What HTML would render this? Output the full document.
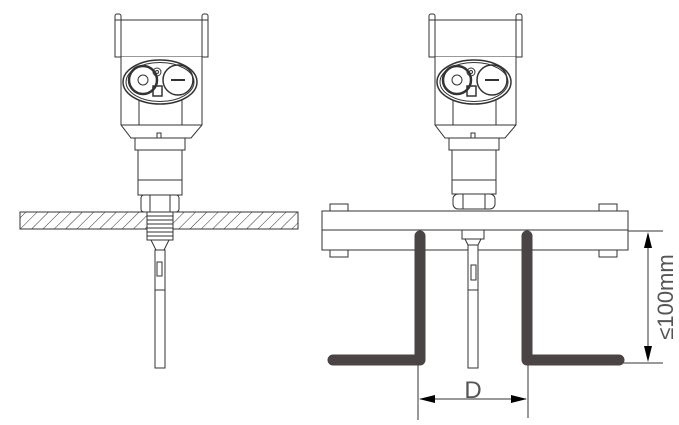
<!DOCTYPE html>
<html><head><style>html,body{margin:0;padding:0;background:#fff;}svg{display:block}</style></head><body>
<svg width="679" height="425" viewBox="0 0 679 425" xmlns="http://www.w3.org/2000/svg">
<defs>
<pattern id="hatch" width="8" height="8" patternUnits="userSpaceOnUse" patternTransform="rotate(45)">
<line x1="0" y1="0" x2="0" y2="8" stroke="#333" stroke-width="1"/>
</pattern>
<g id="head" fill="none" stroke="#333" stroke-width="1">
<rect x="115" y="14" width="6" height="10" rx="2" fill="#fff"/>
<rect x="202" y="14" width="6" height="10" rx="2" fill="#fff"/>
<rect x="115" y="20" width="93" height="37" fill="#fff"/>
<line x1="121" y1="20" x2="121" y2="57"/><line x1="202" y1="20" x2="202" y2="57"/>
<path d="M121 57 V125 L131 138 H191 L202 125 V57" fill="#fff"/>
<line x1="121" y1="125" x2="202" y2="125"/>
<line x1="139" y1="100" x2="139" y2="125"/><line x1="182" y1="100" x2="182" y2="125"/>
<ellipse cx="160" cy="82" rx="37" ry="22" stroke-width="1.5"/>
<ellipse cx="160" cy="82" rx="34" ry="19.5"/>
<circle cx="143" cy="80" r="14" stroke-width="2.5"/>
<circle cx="143" cy="80" r="5"/>
<circle cx="178" cy="80" r="15" stroke-width="1.5"/>
<line x1="171" y1="80" x2="185" y2="80" stroke-width="2"/>
<circle cx="157" cy="72" r="4"/><circle cx="157" cy="72" r="1.5"/>
<rect x="153" y="86" width="9" height="10" stroke-width="1.5"/>
<rect x="157" y="133" width="4" height="14" fill="#fff"/>
</g>
</defs>
<g fill="none" stroke="#333" stroke-width="1">
<use href="#head"/>
<rect x="135" y="138" width="50" height="12" fill="#fff"/>
<rect x="138" y="150" width="44" height="45" fill="#fff"/>
<line x1="138" y1="180" x2="182" y2="180"/>
<rect x="141" y="195" width="38" height="17" rx="3" fill="#fff"/>
<line x1="150" y1="195" x2="150" y2="212"/><line x1="170" y1="195" x2="170" y2="212"/>
<rect x="20" y="212" width="278" height="17" fill="url(#hatch)"/>
<rect x="147" y="212" width="26" height="28" fill="#fff"/>
<line x1="147" y1="216" x2="173" y2="216"/><line x1="147" y1="220" x2="173" y2="220"/><line x1="147" y1="224" x2="173" y2="224"/><line x1="147" y1="228" x2="173" y2="228"/><line x1="147" y1="232" x2="173" y2="232"/><line x1="147" y1="236" x2="173" y2="236"/>
<path d="M151 240 L156 250 H164 L169 240"/>
<rect x="155" y="250" width="10" height="118" fill="#fff"/>
<rect x="157" y="262" width="5" height="14"/>
<line x1="155" y1="290" x2="165" y2="290"/>

<use href="#head" transform="translate(314,0)"/>
<rect x="449" y="138" width="50" height="12" fill="#fff"/>
<rect x="452" y="150" width="44" height="44" fill="#fff"/>
<line x1="452" y1="180" x2="496" y2="180"/>
<rect x="453" y="194" width="42" height="15" rx="5" fill="#fff"/>
<line x1="463" y1="194" x2="463" y2="209"/><line x1="485" y1="194" x2="485" y2="209"/>
<rect x="330" y="204" width="18" height="7"/><rect x="599" y="204" width="18" height="7"/>
<rect x="330" y="250" width="18" height="7"/><rect x="599" y="250" width="18" height="7"/>
<rect x="322" y="211" width="306" height="39" fill="#fff"/>
<line x1="322" y1="230" x2="628" y2="230"/>
<line x1="628" y1="231" x2="663" y2="231"/>
<line x1="610" y1="363" x2="663" y2="363"/>
<rect x="462" y="230" width="22" height="9"/>
<path d="M465 239 L468 245 H478 L481 239"/>
<rect x="468" y="245" width="10" height="123" fill="#fff"/>
<rect x="471" y="265" width="5" height="15"/>
<line x1="468" y1="290" x2="478" y2="290"/>
<line x1="418" y1="365" x2="418" y2="420"/><line x1="528" y1="365" x2="528" y2="418"/>
<line x1="420" y1="399" x2="526" y2="399"/>
<line x1="648" y1="234" x2="648" y2="360"/>
</g>
<g fill="none" stroke="#4a4544" stroke-width="11" stroke-linecap="round" stroke-linejoin="round">
<path d="M420 236 V360 H333"/>
<path d="M527 236 V360 H619"/>
</g>
<g fill="#000">
<path d="M419 399 L435 395 L435 403 Z"/>
<path d="M527 399 L511 395 L511 403 Z"/>
<path d="M648 232 L644 248 L652 248 Z"/>
<path d="M648 362 L644 346 L652 346 Z"/>
</g>
<text x="473" y="398" font-family="Liberation Sans, sans-serif" font-size="24" fill="#555" text-anchor="middle">D</text>
<text transform="translate(673,297) rotate(-90)" font-family="Liberation Sans, DejaVu Sans, sans-serif" font-size="22" fill="#555" text-anchor="middle">≤100mm</text>
</svg>
</body></html>
